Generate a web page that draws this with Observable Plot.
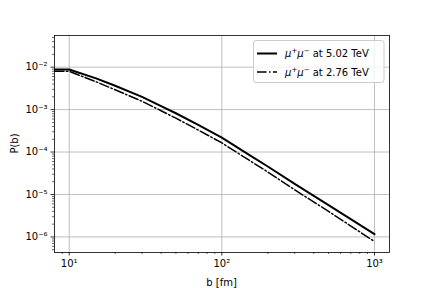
<!DOCTYPE html>
<html><head><meta charset="utf-8">
<script src="https://cdn.jsdelivr.net/npm/d3@7"></script>
<script src="https://cdn.jsdelivr.net/npm/@observablehq/plot@0.6"></script>
<style>body{margin:0;background:#fff}</style>
</head><body><div id="chart"></div>
<script>
// impact parameter b [fm]
const b = [8, 10, 15, 20, 30, 40, 50, 70, 100, 150, 200, 300, 500, 1000];
// P(b) for mu+mu- at 5.02 TeV
const p502 = [8.8e-3, 8.8e-3, 5.45e-3, 3.65e-3, 2.0e-3, 1.21e-3, 8.2e-4, 4.35e-4, 2.18e-4, 8.7e-5, 4.56e-5, 1.78e-5, 5.6e-6, 1.16e-6];
// P(b) for mu+mu- at 2.76 TeV
const p276 = [7.96e-3, 7.96e-3, 4.53e-3, 2.93e-3, 1.57e-3, 9.38e-4, 6.28e-4, 3.3e-4, 1.64e-4, 6.5e-5, 3.38e-5, 1.29e-5, 3.99e-6, 7.8e-7];
const seriesNames = ["5.02 TeV", "2.76 TeV"];
const xTicks = [10, 100, 1000];
const yTicks = [1e-6, 1e-5, 1e-4, 1e-3, 1e-2];
const xLabel = "b [fm]";
const yLabel = "P(b)";

const sup = {"-":"⁻","0":"⁰","1":"¹","2":"²","3":"³","4":"⁴","5":"⁵","6":"⁶","7":"⁷","8":"⁸","9":"⁹"};
const fmt = d => "10" + String(Math.round(Math.log10(d))).split("").map(c => sup[c]).join("");

function minors(lo, hi) {
  const out = [];
  for (let e = Math.floor(Math.log10(lo)); e <= Math.ceil(Math.log10(hi)); e++)
    for (let m = 2; m <= 9; m++) { const v = m * Math.pow(10, e); if (v >= lo && v <= hi) out.push(v); }
  return out;
}
const xDom = [8.01, 1254];
const yDom = [Math.pow(10, -6.367), Math.pow(10, -1.254)];

const d502 = b.map((v, i) => ({b: v, p: p502[i]}));
const d276 = b.map((v, i) => ({b: v, p: p276[i]}));

const chart = Plot.plot({
  width: 432, height: 288,
  marginLeft: 54, marginRight: 43, marginTop: 35, marginBottom: 36,
  style: {fontFamily: "DejaVu Sans", fontSize: "10px", background: "white", color: "black"},
  x: {type: "log", domain: xDom},
  y: {type: "log", domain: yDom},
  marks: [
    Plot.gridX(xTicks, {stroke: "#b0b0b0", strokeOpacity: 1, strokeWidth: 0.8}),
    Plot.gridY(yTicks, {stroke: "#b0b0b0", strokeOpacity: 1, strokeWidth: 0.8}),
    Plot.axisX(xTicks, {tickSize: 3.5, tickPadding: 3.5, tickFormat: fmt, label: null, strokeWidth: 0.8}),
    Plot.axisX(minors(xDom[0], xDom[1]), {tickSize: 2, tickFormat: () => "", label: null, strokeWidth: 0.6}),
    Plot.axisY(yTicks, {tickSize: 3.5, tickPadding: 3.5, tickFormat: fmt, label: null, strokeWidth: 0.8}),
    Plot.axisY(minors(yDom[0], yDom[1]), {tickSize: 2, tickFormat: () => "", label: null, strokeWidth: 0.6}),
    Plot.line(d276, {x: "b", y: "p", stroke: "black", strokeWidth: 1.5, strokeDasharray: "9.6,2.4,1.5,2.4", clip: true}),
    Plot.line(d502, {x: "b", y: "p", stroke: "black", strokeWidth: 2, clip: true}),
    Plot.frame({stroke: "black", strokeWidth: 0.8})
  ]
});
document.getElementById("chart").appendChild(chart);

const svg = d3.select(chart);
svg.append("text").attr("x", 221.5).attr("y", 286).attr("text-anchor", "middle")
  .attr("font-size", 10).text(xLabel);
svg.append("text").attr("transform", "translate(17.5,143.5) rotate(-90)").attr("text-anchor", "middle")
  .attr("font-size", 10).text(yLabel);

// legend
const lg = svg.append("g").attr("text-anchor", "start");
lg.append("rect").attr("x", 253.5).attr("y", 40.5).attr("width", 130.5).attr("height", 42).attr("rx", 2.5)
  .attr("fill", "white").attr("fill-opacity", 0.8).attr("stroke", "#cccccc").attr("stroke-width", 1);
const styles = [{w: 2, dash: null}, {w: 1.5, dash: "9.6,2.4,1.5,2.4"}];
seriesNames.forEach((name, i) => {
  const y = 53.5 + i * 18.5;
  const ln = lg.append("line").attr("x1", 257).attr("x2", 277).attr("y1", y).attr("y2", y)
    .attr("stroke", "black").attr("stroke-width", styles[i].w);
  if (styles[i].dash) ln.attr("stroke-dasharray", styles[i].dash);
  const t = lg.append("text").attr("x", 285).attr("y", y + 3.6).attr("font-size", 10).attr("text-anchor", "start");
  t.append("tspan").attr("font-style", "italic").text("μ");
  t.append("tspan").attr("font-size", 7).attr("dy", -4).text("+");
  t.append("tspan").attr("font-style", "italic").attr("dy", 4).text("μ");
  t.append("tspan").attr("font-size", 7).attr("dy", -4).text("−");
  t.append("tspan").attr("dy", 4).text(" at " + name);
});
</script></body></html>
